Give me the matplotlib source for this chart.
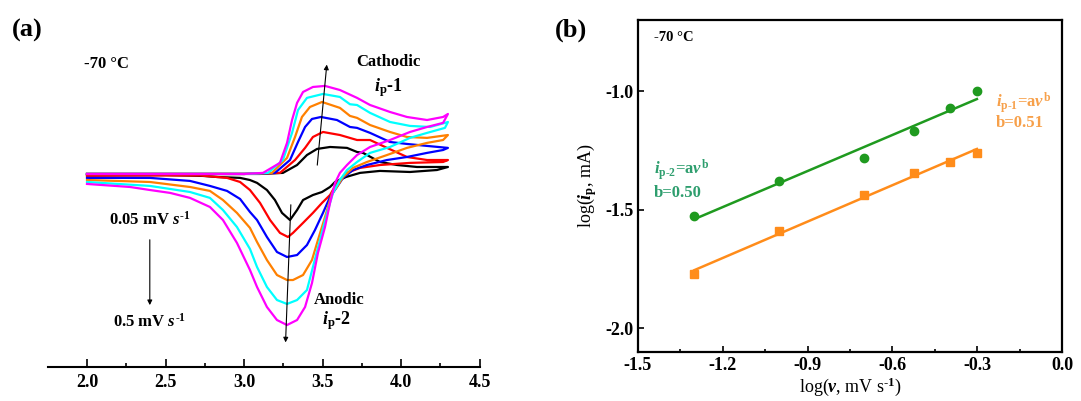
import numpy as np
import matplotlib
matplotlib.use('Agg')
import matplotlib.pyplot as plt

plt.rcParams['font.family'] = 'Liberation Serif'
plt.rcParams['font.weight'] = 'bold'
plt.rcParams['mathtext.fontset'] = 'custom'
plt.rcParams['mathtext.rm'] = 'Liberation Serif:bold'
plt.rcParams['mathtext.it'] = 'Liberation Serif:bold:italic'
plt.rcParams['mathtext.bf'] = 'Liberation Serif:bold'

# ---------------- (a) CV curves, potential (V) / current (uA) ----------------
# forward scan (2.0 -> 4.3 V) followed by reverse scan (4.3 -> 2.0 V)
E_black = [2.0, 2.5, 3.0, 3.10, 3.248, 3.338, 3.401, 3.465, 3.548, 3.656, 3.720, 3.758, 3.866, 3.975, 4.102, 4.229, 4.299,
           4.229, 4.057, 3.866, 3.739, 3.65, 3.58, 3.548, 3.497, 3.439, 3.376, 3.338, 3.293, 3.242, 3.197, 3.146, 3.083,
           3.038, 2.975, 2.828, 2.739, 2.5, 2.0]
I_black = [0.0, 0.0, 0.0, 0.0, 0.7, 5.9, 12.5, 16.5, 17.8, 17.2, 14.5, 13.9, 7.9, 5.9, 4.6, 4.6, 4.6,
           2.6, 1.3, 2.0, 0.7, -2.0, -5.3, -8.6, -11.9, -13.9, -17.2, -23.8, -30.4, -25.7, -17.2, -10.6, -5.9,
           -4.0, -2.6, -2.0, -1.3, -0.7, -0.7]

E_red = [2.0, 2.5, 3.0, 3.229, 3.325, 3.389, 3.439, 3.503, 3.611, 3.720, 3.803, 3.911, 4.038, 4.166, 4.299,
         4.268, 4.057, 3.866, 3.739, 3.656, 3.592, 3.548, 3.497, 3.439, 3.376, 3.312, 3.280, 3.229, 3.166, 3.102,
         3.038, 2.975, 2.892, 2.720, 2.5, 2.0]
I_red = [0.0, 0.0, 0.0, 0.7, 9.2, 17.2, 24.4, 27.7, 25.7, 22.4, 22.4, 17.2, 11.2, 9.2, 9.2,
         7.9, 7.3, 5.9, 4.0, 0.7, -5.9, -13.9, -19.1, -25.7, -32.3, -38.9, -41.6, -38.9, -30.4, -19.1,
         -10.6, -5.3, -2.6, -1.0, -1.0, -1.3]

E_blue = [2.0, 2.5, 3.0, 3.197, 3.293, 3.344, 3.389, 3.433, 3.490, 3.592, 3.675, 3.720, 3.803, 3.930, 4.038, 4.166, 4.299,
          4.268, 4.166, 4.038, 3.911, 3.783, 3.694, 3.631, 3.592, 3.548, 3.503, 3.452, 3.401, 3.338, 3.274, 3.210,
          3.146, 3.083, 3.038, 2.975, 2.892, 2.783, 2.656, 2.401, 2.0]
I_blue = [0.0, 0.0, 0.0, 0.7, 9.2, 21.1, 31.0, 36.3, 37.6, 35.6, 31.0, 30.4, 27.1, 21.1, 19.8, 18.5, 17.2,
          15.8, 13.9, 11.2, 9.2, 5.9, 2.6, -2.6, -8.6, -15.2, -25.7, -37.0, -46.9, -53.5, -54.8, -51.5,
          -41.6, -30.4, -25.1, -16.5, -11.2, -7.9, -4.6, -2.6, -2.6]

E_orange = [2.0, 2.5, 3.0, 3.178, 3.274, 3.325, 3.369, 3.420, 3.497, 3.611, 3.675, 3.720, 3.803, 3.930, 4.038, 4.166, 4.299,
            4.268, 4.166, 4.038, 3.911, 3.783, 3.694, 3.631, 3.592, 3.561, 3.516, 3.471, 3.433, 3.376, 3.312, 3.274,
            3.210, 3.146, 3.083, 3.038, 2.955, 2.866, 2.783, 2.656, 2.401, 2.0]
I_orange = [0.0, 0.0, 0.0, 0.7, 10.6, 24.4, 37.6, 44.2, 47.5, 43.6, 38.3, 37.0, 32.3, 27.7, 24.4, 23.8, 25.7,
            22.4, 20.5, 17.2, 12.5, 7.9, 4.0, -2.0, -8.6, -12.5, -28.4, -43.6, -56.8, -66.7, -70.0, -70.0,
            -66.7, -56.8, -44.9, -35.6, -25.7, -17.2, -11.2, -8.6, -5.3, -4.0]

E_cyan = [2.0, 2.5, 3.0, 3.153, 3.248, 3.306, 3.344, 3.401, 3.503, 3.611, 3.675, 3.720, 3.803, 3.930, 4.057, 4.185, 4.280, 4.299,
          4.280, 4.166, 4.057, 3.930, 3.803, 3.720, 3.656, 3.611, 3.567, 3.529, 3.484, 3.439, 3.401, 3.338, 3.274,
          3.210, 3.146, 3.083, 3.038, 2.955, 2.866, 2.783, 2.656, 2.401, 2.0]
I_cyan = [0.0, 0.0, 0.0, 0.7, 9.2, 27.1, 42.2, 50.2, 52.8, 50.8, 46.0, 45.5, 40.3, 34.3, 31.7, 31.0, 33.7, 34.3,
          30.4, 27.1, 23.8, 17.8, 13.9, 7.9, 2.6, -4.0, -12.5, -25.7, -43.6, -61.4, -76.6, -83.2, -85.8,
          -83.2, -74.6, -61.4, -49.5, -35.0, -23.8, -15.8, -11.9, -7.9, -5.3]

E_magenta = [2.0, 2.5, 3.0, 3.121, 3.229, 3.274, 3.306, 3.338, 3.376, 3.439, 3.516, 3.611, 3.720, 3.803, 3.930, 4.038, 4.166, 4.268, 4.299,
             4.268, 4.166, 4.057, 3.930, 3.803, 3.720, 3.656, 3.611, 3.580, 3.548, 3.516, 3.471, 3.433, 3.389, 3.338, 3.274,
             3.210, 3.146, 3.083, 3.038, 2.955, 2.866, 2.783, 2.656, 2.529, 2.401, 2.274, 2.0]
I_magenta = [0.0, 0.0, 0.0, 0.7, 7.3, 20.5, 35.6, 46.9, 54.1, 57.4, 58.1, 55.4, 50.2, 45.5, 40.9, 37.6, 35.6, 37.6, 39.6,
             33.7, 31.0, 27.7, 22.4, 17.8, 12.5, 5.9, 0.7, -5.9, -19.1, -35.0, -52.1, -72.0, -87.8, -96.4, -99.7,
             -96.4, -87.8, -74.6, -63.4, -45.5, -30.4, -21.8, -15.8, -12.5, -10.6, -8.6, -6.6]

cv_curves = [(E_black, I_black, 'black'), (E_red, I_red, '#ff0000'), (E_blue, I_blue, '#0000ff'),
             (E_orange, I_orange, '#ff8000'), (E_cyan, I_cyan, '#00ffff'), (E_magenta, I_magenta, '#ff00ff')]

# ---------------- (b) log(ip) vs log(v) ----------------
scan_rate = np.array([0.05, 0.1, 0.2, 0.3, 0.4, 0.5])   # mV s-1
log_ip2 = np.array([-1.525, -1.377, -1.280, -1.170, -1.072, -1.000])  # anodic
log_ip1 = np.array([-1.770, -1.589, -1.436, -1.347, -1.297, -1.259])  # cathodic

green = '#1f9a1f'
orange = '#ff8c1a'

fig = plt.figure(figsize=(10.81, 4.01), dpi=100)

# ======================= panel (a) =======================
ax1 = fig.add_axes([47.75/1081, 1-367/401, (479.5-47.75)/1081, 347/401])
for E, I, c in cv_curves:
    ax1.plot(E, I, color=c, lw=1.6)

ax1.set_xlim(1.75, 4.5)
ax1.set_ylim(-127.4, 101.6)
for s in ['left', 'right', 'top']:
    ax1.spines[s].set_visible(False)
ax1.spines['bottom'].set_linewidth(1.5)
ax1.set_yticks([])
ax1.set_xticks([2.0, 2.5, 3.0, 3.5, 4.0, 4.5])
ax1.set_xticks([2.25, 2.75, 3.25, 3.75, 4.25], minor=True)
ax1.tick_params(axis='x', which='major', direction='in', length=6, width=1.2, labelsize=13, pad=5)
ax1.tick_params(axis='x', which='minor', direction='in', length=3, width=1.2)

ax1.text(1.98, 72.6, '-70 °C', fontsize=12, ha='left', va='center')
ax1.text(3.92, 74, 'Cathodic', fontsize=12, ha='center', va='center')
ax1.text(3.92, 57, r'$i_{\rm p}$-1', fontsize=13, ha='center', va='center')
ax1.text(3.605, -83, 'Anodic', fontsize=12, ha='center', va='center')
ax1.text(3.59, -97, r'$i_{\rm p}$-2', fontsize=13, ha='center', va='center')
ax1.text(2.40, -30.5, r'0.05 mV $s^{\text{-}1}$', fontsize=12, ha='center', va='center')
ax1.text(2.40, -97.5, r'0.5 mV $s^{\text{-}1}$', fontsize=12, ha='center', va='center')

arrow = dict(arrowstyle='-|>', color='black', lw=0.8, mutation_scale=7)
ax1.annotate('', xy=(3.529, 74.0), xytext=(3.465, 4.0), arrowprops=arrow)
ax1.annotate('', xy=(3.264, -113.0), xytext=(3.299, -18.5), arrowprops=arrow)
ax1.annotate('', xy=(2.40, -88.4), xytext=(2.40, -41.6), arrowprops=arrow)

fig.text(12/1081, 1-30/401, '(a)', fontsize=19, ha='left', va='center')

# ======================= panel (b) =======================
ax2 = fig.add_axes([638/1081, 1-352/401, 424/1081, 332/401])
lx = np.log10(scan_rate)

k2, b2 = np.polyfit(lx, log_ip2, 1)
k1, b1 = np.polyfit(lx, log_ip1, 1)
ax2.plot(lx, k2*lx + b2, color=green, lw=1.8)
ax2.plot(lx, k1*lx + b1, color=orange, lw=1.8)
ax2.plot(lx, log_ip2, 'o', color=green, ms=6)
ax2.plot(lx, log_ip1, 's', color=orange, ms=6)

ax2.set_xlim(-1.5, 0.0)
ax2.set_ylim(-2.1, -0.7)
ax2.set_xticks([-1.5, -1.2, -0.9, -0.6, -0.3, 0.0])
ax2.set_xticklabels(['-1.5', '-1.2', '-0.9', '-0.6', '-0.3', '0.0'])
ax2.set_xticks([-1.35, -1.05, -0.75, -0.45, -0.15], minor=True)
ax2.set_yticks([-2.0, -1.5, -1.0])
ax2.set_yticklabels(['-2.0', '-1.5', '-1.0'])
ax2.tick_params(axis='both', which='major', direction='in', length=4, width=1.2, labelsize=13)
ax2.tick_params(axis='x', which='minor', direction='in', length=2.5, width=1.2)
for s in ax2.spines.values():
    s.set_linewidth(1.6)

ax2.set_xlabel(r'log($v$, mV s$^{\text{-}1}$)', fontsize=13, labelpad=1)
ax2.set_ylabel(r'log($i_{\rm p}$, mA)', fontsize=13, labelpad=4)

ax2.text(-1.445, -0.775, '-70 °C', fontsize=10.5, ha='left', va='center')
ax2.text(-1.445, -1.33, r'$i_{\rm p\text{-}2}$=a$\nu^{\rm b}$', fontsize=12, color='#2e9e6e',
         ha='left', va='center')
ax2.text(-1.445, -1.43, 'b=0.50', fontsize=12, color='#2e9e6e', ha='left', va='center')
ax2.text(-0.235, -1.05, r'$i_{\rm p\text{-}1}$=a$\nu^{\rm b}$', fontsize=12, color='#f7a04a',
         ha='left', va='center')
ax2.text(-0.235, -1.135, 'b=0.51', fontsize=12, color='#f7a04a', ha='left', va='center')

fig.text(555/1081, 1-30/401, '(b)', fontsize=19, ha='left', va='center')

fig.savefig('out.png', dpi=100)
